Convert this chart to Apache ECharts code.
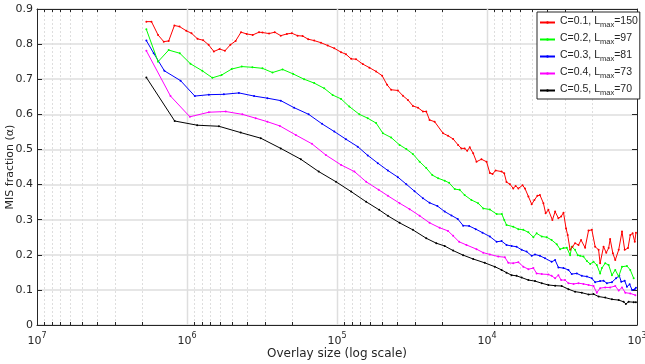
<!DOCTYPE html>
<html>
<head>
<meta charset="utf-8">
<script src="https://cdn.jsdelivr.net/npm/echarts@6/dist/echarts.min.js"></script>
<style>
  html, body { margin: 0; padding: 0; background: #fff; }
  #chart { width: 645px; height: 364px; }
</style>
</head>
<body>
<div id="chart"></div>
<script>
// MIS fraction vs. overlay size, one curve per threshold C.
// Points are [log10(overlay size), MIS fraction].
const cValues = [0.1, 0.2, 0.3, 0.4, 0.5];
const lmaxValues = [150, 97, 81, 73, 70];
const lineColors = ['#ff0000', '#00ff00', '#0000ff', '#ff00ff', '#000000'];

const xTickExponents = [7, 6, 5, 4, 3];
const yTicks = [0, 0.1, 0.2, 0.3, 0.4, 0.5, 0.6, 0.7, 0.8, 0.9];

const curveC01 = [
  [6.271,0.864],[6.237,0.864],[6.193,0.826],[6.155,0.807],[6.122,0.809],[6.084,0.853],[6.050,0.850],[6.005,0.838],
  [5.970,0.831],[5.930,0.815],[5.892,0.811],[5.856,0.798],[5.821,0.779],[5.783,0.786],[5.747,0.781],[5.711,0.798],
  [5.676,0.809],[5.640,0.834],[5.602,0.829],[5.562,0.826],[5.520,0.834],[5.497,0.833],[5.453,0.830],[5.415,0.834],
  [5.375,0.824],[5.334,0.829],[5.301,0.831],[5.263,0.824],[5.229,0.823],[5.192,0.814],[5.152,0.810],[5.107,0.804],
  [5.062,0.796],[5.018,0.788],[4.973,0.777],[4.940,0.771],[4.906,0.758],[4.873,0.757],[4.828,0.743],[4.784,0.733],
  [4.739,0.722],[4.699,0.710],[4.666,0.684],[4.639,0.670],[4.594,0.668],[4.561,0.653],[4.527,0.641],[4.494,0.624],
  [4.460,0.619],[4.427,0.608],[4.405,0.608],[4.383,0.584],[4.349,0.579],[4.293,0.546],[4.260,0.539],[4.226,0.530],
  [4.193,0.513],[4.171,0.503],[4.149,0.503],[4.132,0.496],[4.115,0.506],[4.092,0.489],[4.070,0.465],[4.037,0.472],
  [4.003,0.465],[3.981,0.433],[3.963,0.430],[3.943,0.440],[3.903,0.437],[3.885,0.432],[3.870,0.407],[3.847,0.401],
  [3.825,0.389],[3.809,0.396],[3.791,0.389],[3.763,0.398],[3.747,0.389],[3.724,0.366],[3.702,0.344],[3.684,0.356],
  [3.664,0.368],[3.647,0.370],[3.624,0.347],[3.609,0.318],[3.591,0.328],[3.564,0.299],[3.546,0.323],[3.524,0.304],
  [3.506,0.309],[3.490,0.320],[3.473,0.275],[3.462,0.256],[3.446,0.214],[3.430,0.223],[3.413,0.233],[3.390,0.228],
  [3.373,0.242],[3.346,0.220],[3.323,0.269],[3.301,0.271],[3.279,0.223],[3.256,0.214],[3.246,0.176],[3.223,0.223],
  [3.205,0.206],[3.189,0.219],[3.179,0.245],[3.161,0.204],[3.145,0.185],[3.122,0.214],[3.100,0.266],[3.082,0.214],
  [3.060,0.219],[3.045,0.256],[3.029,0.261],[3.015,0.237],[3.007,0.263]
];

const curveC02 = [
  [6.271,0.842],[6.193,0.750],[6.122,0.783],[6.048,0.774],[5.977,0.744],[5.898,0.724],[5.831,0.704],[5.769,0.712],
  [5.702,0.729],[5.635,0.736],[5.564,0.734],[5.497,0.731],[5.430,0.719],[5.363,0.728],[5.292,0.715],[5.219,0.700],
  [5.152,0.689],[5.085,0.674],[5.029,0.655],[4.973,0.644],[4.918,0.622],[4.851,0.600],[4.795,0.589],[4.739,0.575],
  [4.694,0.546],[4.639,0.534],[4.583,0.513],[4.538,0.501],[4.494,0.487],[4.449,0.465],[4.405,0.447],[4.365,0.427],
  [4.326,0.418],[4.282,0.411],[4.253,0.405],[4.215,0.387],[4.182,0.385],[4.149,0.370],[4.104,0.356],[4.059,0.347],
  [4.025,0.332],[3.981,0.329],[3.936,0.316],[3.901,0.316],[3.885,0.299],[3.870,0.285],[3.825,0.280],[3.791,0.273],
  [3.758,0.271],[3.724,0.264],[3.691,0.250],[3.669,0.261],[3.635,0.252],[3.602,0.250],[3.569,0.242],[3.535,0.230],
  [3.513,0.216],[3.490,0.219],[3.468,0.220],[3.446,0.199],[3.435,0.223],[3.413,0.214],[3.395,0.199],[3.379,0.197],
  [3.357,0.195],[3.334,0.182],[3.312,0.174],[3.290,0.180],[3.268,0.171],[3.246,0.147],[3.234,0.162],[3.212,0.176],
  [3.189,0.171],[3.167,0.142],[3.145,0.157],[3.122,0.138],[3.100,0.166],[3.067,0.168],[3.045,0.157],[3.022,0.133]
];

const curveC03 = [
  [6.271,0.810],[6.222,0.774],[6.151,0.724],[6.043,0.696],[5.948,0.652],[5.854,0.656],[5.754,0.657],[5.654,0.661],
  [5.553,0.652],[5.464,0.646],[5.375,0.639],[5.286,0.619],[5.189,0.600],[5.100,0.573],[5.018,0.551],[4.940,0.529],
  [4.862,0.508],[4.795,0.483],[4.728,0.461],[4.661,0.440],[4.594,0.421],[4.538,0.401],[4.483,0.381],[4.427,0.361],
  [4.383,0.348],[4.331,0.339],[4.282,0.323],[4.237,0.312],[4.195,0.302],[4.159,0.283],[4.119,0.282],[4.075,0.273],
  [4.030,0.263],[3.981,0.252],[3.936,0.237],[3.903,0.239],[3.870,0.228],[3.836,0.225],[3.803,0.223],[3.769,0.214],
  [3.736,0.209],[3.702,0.197],[3.680,0.201],[3.647,0.197],[3.613,0.190],[3.569,0.180],[3.546,0.185],[3.524,0.164],
  [3.490,0.162],[3.457,0.157],[3.435,0.145],[3.401,0.147],[3.368,0.140],[3.334,0.138],[3.301,0.133],[3.279,0.122],
  [3.246,0.125],[3.223,0.126],[3.201,0.119],[3.167,0.122],[3.140,0.133],[3.118,0.140],[3.105,0.123],[3.082,0.126],
  [3.067,0.109],[3.049,0.116],[3.033,0.100],[3.015,0.102],[3.007,0.106]
];

const curveC04 = [
  [6.271,0.781],[6.110,0.652],[5.981,0.593],[5.854,0.606],[5.742,0.608],[5.631,0.600],[5.542,0.589],[5.464,0.579],
  [5.381,0.567],[5.274,0.541],[5.167,0.516],[5.074,0.484],[4.973,0.456],[4.884,0.437],[4.806,0.408],[4.722,0.385],
  [4.661,0.368],[4.583,0.347],[4.516,0.330],[4.449,0.311],[4.383,0.291],[4.316,0.277],[4.260,0.268],[4.226,0.254],
  [4.186,0.237],[4.137,0.228],[4.070,0.216],[4.025,0.206],[3.981,0.201],[3.925,0.195],[3.881,0.193],[3.858,0.177],
  [3.825,0.176],[3.791,0.179],[3.758,0.166],[3.724,0.159],[3.691,0.162],[3.669,0.147],[3.635,0.145],[3.591,0.144],
  [3.569,0.140],[3.546,0.133],[3.524,0.142],[3.506,0.128],[3.480,0.128],[3.457,0.119],[3.423,0.117],[3.390,0.119],
  [3.357,0.117],[3.323,0.114],[3.290,0.111],[3.268,0.092],[3.246,0.105],[3.212,0.107],[3.179,0.107],[3.145,0.111],
  [3.122,0.098],[3.100,0.107],[3.078,0.092],[3.045,0.090],[3.011,0.085]
];

const curveC05 = [
  [6.271,0.705],[6.082,0.581],[5.932,0.569],[5.787,0.566],[5.642,0.548],[5.508,0.532],[5.375,0.503],[5.241,0.472],
  [5.122,0.437],[5.007,0.408],[4.906,0.380],[4.806,0.351],[4.719,0.328],[4.661,0.311],[4.583,0.291],[4.494,0.271],
  [4.405,0.247],[4.338,0.233],[4.282,0.225],[4.226,0.212],[4.159,0.199],[4.092,0.188],[4.015,0.177],[3.948,0.166],
  [3.903,0.157],[3.870,0.149],[3.836,0.142],[3.803,0.140],[3.769,0.135],[3.724,0.128],[3.680,0.125],[3.635,0.119],
  [3.591,0.114],[3.546,0.112],[3.502,0.111],[3.457,0.102],[3.413,0.095],[3.368,0.092],[3.323,0.087],[3.290,0.088],
  [3.256,0.081],[3.212,0.078],[3.167,0.073],[3.122,0.071],[3.089,0.066],[3.074,0.060],[3.056,0.066],[3.022,0.065],
  [3.007,0.065]
];

const curves = [curveC01, curveC02, curveC03, curveC04, curveC05];

// Minor decade positions 2..9 x 10^k for the dashed grid and small ticks
const minorTicks = [];
for (let k = 3; k < 7; k++) {
  for (let m = 2; m <= 9; m++) minorTicks.push(m * Math.pow(10, k));
}

const FONT = 'DejaVu Sans';
const LEGEND_FONT = 'Liberation Sans';
const TEXT = '#262626';
const AXIS = '#262626';
const GRID = '#dedede';

const chart = echarts.init(document.getElementById('chart'), null, { renderer: 'canvas' });

const seriesNames = cValues.map((c, i) => `C=${c}, Lmax=${lmaxValues[i]}`);

const lineSeries = curves.map((pts, i) => ({
  name: seriesNames[i],
  type: 'line',
  data: pts.map(p => [Math.pow(10, p[0]), p[1]]),
  symbol: 'circle',
  symbolSize: 2,
  showSymbol: true,
  color: lineColors[i],
  lineStyle: { width: 1, color: lineColors[i] },
  itemStyle: { color: lineColors[i] },
  emphasis: { disabled: true },
  animation: false,
  z: 10 - i
}));

const minorGridSeries = {
  type: 'custom',
  silent: true,
  animation: false,
  clip: false,
  z: 1,
  data: minorTicks.map(v => [v]),
  renderItem: function (params, api) {
    const v = api.value(0);
    const bottom = api.coord([v, 0]);
    const top = api.coord([v, 0.9]);
    const x = Math.round(bottom[0]) + 0.5;
    return {
      type: 'group',
      children: [
        { type: 'line', shape: { x1: x, y1: bottom[1], x2: x, y2: top[1] },
          style: { stroke: GRID, lineWidth: 1, lineDash: [2, 2] } },
        { type: 'line', shape: { x1: x, y1: bottom[1], x2: x, y2: bottom[1] - 3 },
          style: { stroke: AXIS, lineWidth: 1 } },
        { type: 'line', shape: { x1: x, y1: top[1], x2: x, y2: top[1] + 3 },
          style: { stroke: AXIS, lineWidth: 1 } }
      ]
    };
  }
};

const xAxisBase = {
  type: 'log',
  logBase: 10,
  min: Math.pow(10, xTickExponents[xTickExponents.length - 1]),
  max: Math.pow(10, xTickExponents[0]),
  inverse: true,
  axisLine: { show: true, onZero: false, lineStyle: { color: AXIS, width: 1 } },
  axisTick: { show: true, inside: true, length: 5, lineStyle: { color: AXIS } },
  splitLine: { show: false },
  minorTick: { show: false },
  minorSplitLine: { show: false }
};

const yAxisBase = {
  type: 'value',
  min: yTicks[0],
  max: yTicks[yTicks.length - 1],
  interval: 0.1,
  axisLine: { show: true, onZero: false, lineStyle: { color: AXIS, width: 1 } },
  axisTick: { show: true, inside: true, length: 5, lineStyle: { color: AXIS } },
  splitLine: { show: false }
};

chart.setOption({
  backgroundColor: '#ffffff',
  animation: false,
  textStyle: { fontFamily: FONT },
  grid: { left: 37, right: 8, top: 9, bottom: 39, containLabel: false, outerBoundsMode: 'none' },
  legend: {
    orient: 'vertical',
    left: 537,
    top: 12,
    padding: [3, 2, 2, 2],
    itemGap: 3,
    itemWidth: 15,
    itemHeight: 3,
    backgroundColor: '#ffffff',
    borderColor: AXIS,
    borderWidth: 1,
    borderRadius: 0,
    selectedMode: false,
    data: seriesNames,
    formatter: function (name) {
      const i = seriesNames.indexOf(name);
      return `{b|C=${cValues[i]}, L}{sub|max}{b|=${lmaxValues[i]}}`;
    },
    textStyle: {
      fontFamily: LEGEND_FONT,
      color: TEXT,
      rich: {
        b: { fontFamily: LEGEND_FONT, fontSize: 10.5, color: TEXT, lineHeight: 13, verticalAlign: 'top' },
        sub: { fontFamily: LEGEND_FONT, fontSize: 7.5, color: TEXT, lineHeight: 8, verticalAlign: 'bottom', padding: [6, 0, 0, 0] }
      }
    }
  },
  xAxis: [
    Object.assign({}, xAxisBase, {
      position: 'bottom',
      name: 'Overlay size (log scale)',
      nameLocation: 'middle',
      nameGap: 23,
      nameMoveOverlap: false,
      nameTextStyle: { fontFamily: FONT, fontSize: 12, color: TEXT, verticalAlign: 'top' },
      axisLabel: {
        show: true,
        margin: 7,
        formatter: function (v) {
          const e = Math.round(Math.log10(v));
          return `{b|10}{sup|${e}}`;
        },
        rich: {
          b: { fontFamily: FONT, fontSize: 11, color: TEXT, lineHeight: 15, verticalAlign: 'bottom' },
          sup: { fontFamily: FONT, fontSize: 8, color: TEXT, lineHeight: 8, verticalAlign: 'top' }
        }
      }
    }),
    Object.assign({}, xAxisBase, {
      position: 'top',
      axisLabel: { show: false }
    })
  ],
  yAxis: [
    Object.assign({}, yAxisBase, {
      position: 'left',
      name: 'MIS fraction (\u03b1)',
      nameLocation: 'middle',
      nameGap: 21,
      nameMoveOverlap: false,
      nameRotate: 90,
      nameTextStyle: { fontFamily: FONT, fontSize: 11, color: TEXT },
      splitLine: { show: true, lineStyle: { color: GRID, width: 1.5 } },
      axisLabel: {
        show: true,
        margin: 4,
        fontFamily: FONT,
        fontSize: 11,
        color: TEXT,
        formatter: v => (Math.abs(v) < 1e-9 ? '0' : v.toFixed(1))
      }
    }),
    Object.assign({}, yAxisBase, {
      position: 'right',
      axisLabel: { show: false }
    })
  ],
  series: [
    minorGridSeries,
    // solid vertical lines at each decade
    {
      type: 'custom',
      silent: true,
      animation: false,
      z: 2,
      data: xTickExponents.slice(1, -1).map(e => [Math.pow(10, e)]),
      renderItem: function (params, api) {
        const v = api.value(0);
        const b = api.coord([v, 0]);
        const t = api.coord([v, 0.9]);
        const x = Math.round(b[0]) + 0.5;
        return { type: 'line', shape: { x1: x, y1: b[1], x2: x, y2: t[1] },
                 style: { stroke: GRID, lineWidth: 1.5 } };
      }
    }
  ].concat(lineSeries)
});
</script>
</body>
</html>
